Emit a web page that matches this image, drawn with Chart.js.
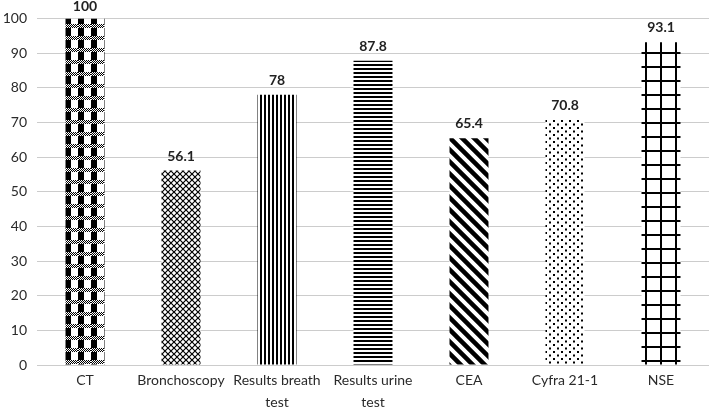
<!DOCTYPE html>
<html>
<head>
<meta charset="utf-8">
<script src="https://cdn.jsdelivr.net/npm/chart.js@4/dist/chart.umd.min.js"></script>
<style>
  html, body { margin: 0; padding: 0; background: #fff; }
  #wrap { width: 709px; height: 410px; }
</style>
</head>
<body>
<div id="wrap"><canvas id="chart"></canvas></div>
<script>
const categories = [
  'CT',
  'Bronchoscopy',
  ['Results breath', 'test'],
  ['Results urine', 'test'],
  'CEA',
  'Cyfra 21-1',
  'NSE'
];
const values = [100, 56.1, 78, 87.8, 65.4, 70.8, 93.1];
const yTicks = [0, 10, 20, 30, 40, 50, 60, 70, 80, 90, 100];

// small tile helper for the hatch fills
const tile = (w, h, draw) => {
  const c = document.createElement('canvas');
  c.width = w;
  c.height = h;
  const g = c.getContext('2d');
  g.fillStyle = '#fff';
  g.fillRect(0, 0, w, h);
  g.fillStyle = '#000';
  g.strokeStyle = '#000';
  draw(g, w, h);
  return document.getElementById('chart').getContext('2d').createPattern(c, 'repeat');
};

const patterns = [
  // CT: plaid
  tile(13, 12, (g) => {
    for (let x = 0; x < 13; x += 2) {
      g.fillRect(x, 0, 1, 1);
      g.fillRect(x + 1, 1, 1, 1);
      g.fillRect(x, 2, 1, 1);
      g.fillRect(x + 1, 3, 1, 1);
    }
    g.fillRect(0, 4, 6, 8);
  }),
  // Bronchoscopy: small diamonds
  tile(6, 6, (g) => {
    g.lineWidth = 1.2;
    g.beginPath();
    g.moveTo(0, 0); g.lineTo(6, 6);
    g.moveTo(6, 0); g.lineTo(0, 6);
    g.stroke();
  }),
  // breath test: vertical lines
  tile(4, 4, (g) => { g.fillRect(0, 0, 2, 4); }),
  // urine test: horizontal lines
  tile(4, 4, (g) => { g.fillRect(0, 0, 4, 2); }),
  // CEA: wide downward diagonal
  tile(12, 12, (g) => {
    g.lineWidth = 4.5;
    g.beginPath();
    g.moveTo(-6, -6); g.lineTo(18, 18);
    g.moveTo(-6, 6); g.lineTo(6, 18);
    g.moveTo(6, -6); g.lineTo(18, 6);
    g.stroke();
  }),
  // Cyfra: sparse dots
  tile(8, 7, (g) => {
    g.fillRect(1, 1, 2, 2);
    g.fillRect(5, 4.5, 2, 2);
  }),
  // NSE: large grid
  tile(15, 14, (g) => {
    g.fillRect(0, 0, 2, 14);
    g.fillRect(0, 10, 15, 2);
  })
];

const valueLabels = {
  id: 'valueLabels',
  afterDatasetsDraw(chart) {
    const { ctx } = chart;
    const meta = chart.getDatasetMeta(0);
    ctx.save();
    ctx.font = 'bold 14px Lato';
    ctx.fillStyle = '#222';
    ctx.textAlign = 'center';
    ctx.textBaseline = 'alphabetic';
    meta.data.forEach((bar, i) => {
      ctx.fillText(String(values[i]), bar.x, Math.max(bar.y - 10, 11));
    });
    ctx.restore();
  }
};

Chart.defaults.font.family = 'Lato';
Chart.defaults.font.size = 14;
Chart.defaults.color = '#2a2a2a';

new Chart(document.getElementById('chart'), {
  type: 'bar',
  data: {
    labels: categories,
    datasets: [{
      data: values,
      backgroundColor: patterns,
      borderWidth: 0,
      categoryPercentage: 1,
      barPercentage: 0.406
    }]
  },
  options: {
    responsive: true,
    maintainAspectRatio: false,
    animation: false,
    layout: { padding: { top: 12, right: 0, left: 0, bottom: 0 } },
    plugins: {
      legend: { display: false },
      tooltip: { enabled: false }
    },
    scales: {
      x: {
        grid: { display: false, drawTicks: false },
        border: { color: '#cccccc' },
        ticks: { padding: 5, maxRotation: 0, autoSkip: false, font: { size: 14, lineHeight: 1.55 } },
        afterFit: (s) => { s.height = 45; }
      },
      y: {
        min: 0,
        max: 100,
        afterBuildTicks: (s) => { s.ticks = yTicks.map(v => ({ value: v })); },
        grid: { color: '#cccccc', drawTicks: false },
        border: { display: false },
        ticks: { padding: 10, font: { size: 14 } },
        afterFit: (s) => { s.width = 37; }
      }
    }
  },
  plugins: [valueLabels]
});
</script>
</body>
</html>
